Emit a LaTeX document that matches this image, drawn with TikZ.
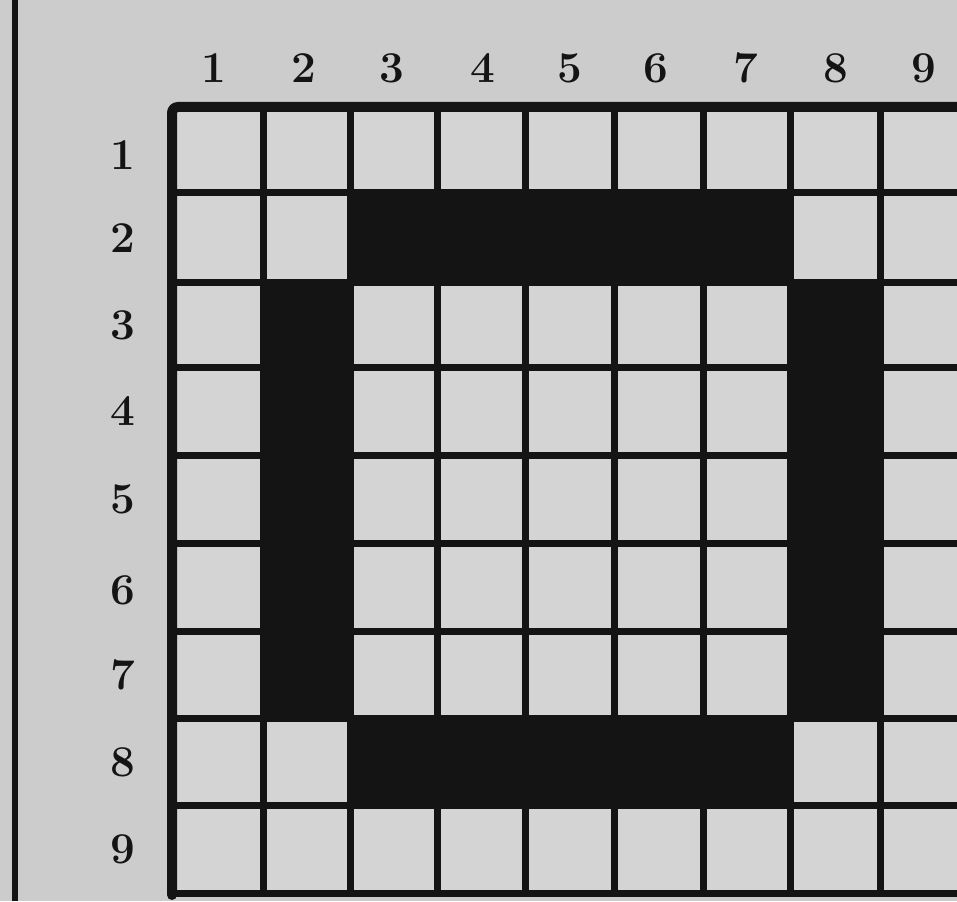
\documentclass[tikz,border=0pt]{standalone}
\begin{document}
\begin{tikzpicture}[x=1pt,y=-1pt,
  gridline/.style={line width=7pt,draw=black!92,line cap=round},
  border/.style={line width=10pt,draw=black!92,line cap=round},
  ink/.style={fill=black!92},
  lbl/.style={font=\fontsize{44}{44}\selectfont\bfseries,text=black!92,inner sep=0pt}]
\useasboundingbox (0,0) rectangle (957,901);
\fill[black!20] (0,0) rectangle (957,901);
% cells
\fill[black!17] (172,107) rectangle (968,893);
% filled ring
\fill[ink] (350,193) rectangle (790,282);
\fill[ink] (350,718) rectangle (790,805);
\fill[ink] (263,282) rectangle (350,718);
\fill[ink] (790,282) rectangle (880,718);
% grid
\foreach \x in {263,350,437,525,614,703,790,880}
  \draw[gridline] (\x,107) -- (\x,893);
\foreach \y in {193,282,367,455,543,631,718,805,893}
  \draw[gridline] (172,\y) -- (965,\y);
\draw[border] (965,107) -- (178,107) to[out=180,in=90] (172,113) -- (172,895);
% left rule
\draw[line width=6pt,black!92] (15,0) -- (15,901);
% column labels
\foreach \n/\x in {1/214,2/304,3/392,4/483,5/570,6/656,7/746,8/836,9/924}
  \node[lbl] (c\n) at (\x,68) {\n};
% row labels
\foreach \n/\y in {1/155,2/238,3/325,4/411,5/499,6/590,7/675,8/762,9/849}
  \node[lbl] (r\n) at (123,\y) {\n};
\end{tikzpicture}
\end{document}
